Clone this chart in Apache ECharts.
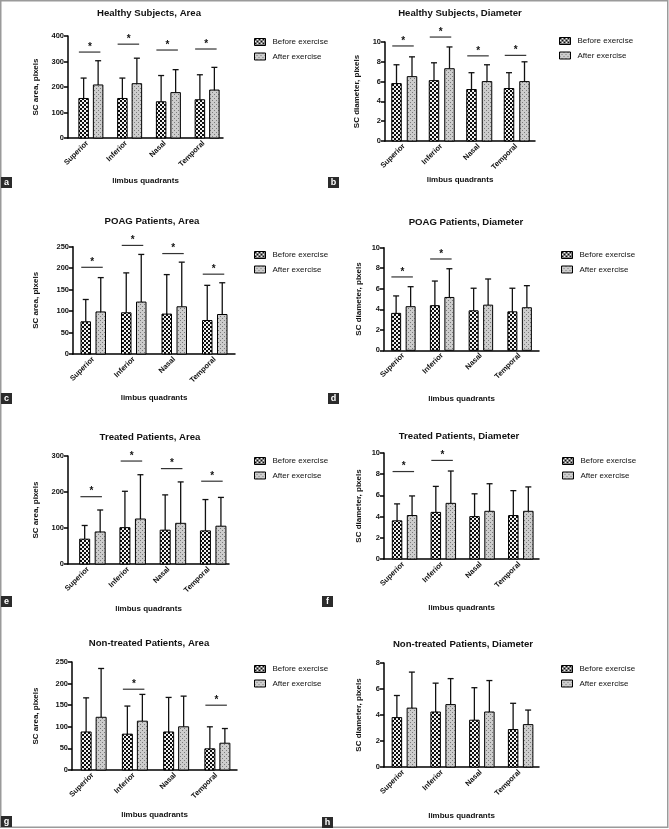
<!DOCTYPE html>
<html><head><meta charset="utf-8">
<script src="https://cdn.jsdelivr.net/npm/echarts@6/dist/echarts.min.js"></script>
<style>html,body{margin:0;padding:0;background:#fff}#c{width:669px;height:829px}</style>
</head><body><div id="c"></div>
<script>
// ---------- DATA ----------
const categories = ['Superior', 'Inferior', 'Nasal', 'Temporal'];
const seriesNames = ['Before exercise', 'After exercise'];
const titles = ['Healthy Subjects, Area', 'Healthy Subjects, Diameter', 'POAG Patients, Area', 'POAG Patients, Diameter',
  'Treated Patients, Area', 'Treated Patients, Diameter', 'Non-treated Patients, Area', 'Non-treated Patients, Diameter'];
const yNames = ['SC area, pixels', 'SC diameter, pixels'];
const xName = 'limbus quadrants';
const panelLetters = ['a', 'b', 'c', 'd', 'e', 'f', 'g', 'h'];
const yMax = [400, 10, 250, 10, 300, 10, 250, 8];
const yStep = [100, 2, 50, 2, 100, 2, 50, 2];

// a
const healthyAreaBefore = [155, 155, 142, 150];
const healthyAreaBeforeSD = [80, 80, 103, 98];
const healthyAreaAfter = [208, 213, 178, 188];
const healthyAreaAfterSD = [95, 100, 90, 89];
const healthyAreaSig = [337, 368, 345, 349];
// b
const healthyDiamBefore = [5.8, 6.1, 5.2, 5.3];
const healthyDiamBeforeSD = [1.9, 1.8, 1.7, 1.6];
const healthyDiamAfter = [6.5, 7.3, 6.0, 6.0];
const healthyDiamAfterSD = [2.0, 2.2, 1.7, 2.0];
const healthyDiamSig = [9.6, 10.5, 8.6, 8.65];
// c
const poagAreaBefore = [75, 96, 93, 78];
const poagAreaBeforeSD = [52, 93, 92, 82];
const poagAreaAfter = [98, 121, 110, 92];
const poagAreaAfterSD = [80, 111, 104, 74];
const poagAreaSig = [202, 253, 234, 186];
// d
const poagDiamBefore = [3.6, 4.35, 3.85, 3.75];
const poagDiamBeforeSD = [1.7, 2.4, 2.2, 2.3];
const poagDiamAfter = [4.25, 5.15, 4.4, 4.15];
const poagDiamAfterSD = [1.95, 2.8, 2.55, 2.15];
const poagDiamSig = [7.15, 8.9, null, null];
// e
const treatedAreaBefore = [69, 101, 94, 92];
const treatedAreaBeforeSD = [38, 101, 98, 87];
const treatedAreaAfter = [89, 125, 113, 105];
const treatedAreaAfterSD = [61, 123, 115, 80];
const treatedAreaSig = [187, 286, 265, 230];
// f
const treatedDiamBefore = [3.6, 4.4, 4.0, 4.1];
const treatedDiamBeforeSD = [1.6, 2.45, 2.15, 2.35];
const treatedDiamAfter = [4.1, 5.25, 4.5, 4.5];
const treatedDiamAfterSD = [1.85, 3.05, 2.6, 2.3];
const treatedDiamSig = [8.25, 9.3, null, null];
// g
const nonTreatedAreaBefore = [88, 83, 88, 49];
const nonTreatedAreaBeforeSD = [79, 65, 80, 51];
const nonTreatedAreaAfter = [122, 113, 100, 62];
const nonTreatedAreaAfterSD = [113, 62, 71, 34];
const nonTreatedAreaSig = [null, 187, null, 150];
// h
const nonTreatedDiamBefore = [3.8, 4.23, 3.6, 2.88];
const nonTreatedDiamBeforeSD = [1.7, 2.22, 2.5, 2.02];
const nonTreatedDiamAfter = [4.53, 4.8, 4.23, 3.26];
const nonTreatedDiamAfterSD = [2.77, 2.0, 2.42, 1.12];
const nonTreatedDiamSig = [null, null, null, null];

const panels = [
  [healthyAreaBefore, healthyAreaBeforeSD, healthyAreaAfter, healthyAreaAfterSD, healthyAreaSig],
  [healthyDiamBefore, healthyDiamBeforeSD, healthyDiamAfter, healthyDiamAfterSD, healthyDiamSig],
  [poagAreaBefore, poagAreaBeforeSD, poagAreaAfter, poagAreaAfterSD, poagAreaSig],
  [poagDiamBefore, poagDiamBeforeSD, poagDiamAfter, poagDiamAfterSD, poagDiamSig],
  [treatedAreaBefore, treatedAreaBeforeSD, treatedAreaAfter, treatedAreaAfterSD, treatedAreaSig],
  [treatedDiamBefore, treatedDiamBeforeSD, treatedDiamAfter, treatedDiamAfterSD, treatedDiamSig],
  [nonTreatedAreaBefore, nonTreatedAreaBeforeSD, nonTreatedAreaAfter, nonTreatedAreaAfterSD, nonTreatedAreaSig],
  [nonTreatedDiamBefore, nonTreatedDiamBeforeSD, nonTreatedDiamAfter, nonTreatedDiamAfterSD, nonTreatedDiamSig]
];

// ---------- LAYOUT ----------
const layout = [
  {x0:68, x1:223, top:36, bottom:138, shift:3.5, sep:14.5, bw:9.5, title:[149,13], legend:[254,42], yGap:28, xGap:39, label:[1,177]},
  {x0:385, x1:535, top:42, bottom:141, shift:0.5, sep:15.5, bw:9.5, title:[460,13], legend:[559,41], yGap:24, xGap:35, label:[328,177]},
  {x0:73, x1:235, top:246.7, bottom:354, shift:0, sep:15, bw:9.5, title:[152,221], legend:[254,255], yGap:33, xGap:40, label:[1,393]},
  {x0:384, x1:539, top:247.7, bottom:350.3, shift:0, sep:14.5, bw:9, title:[466,222], legend:[561,255], yGap:21, xGap:44, label:[328,393]},
  {x0:68, x1:229, top:456, bottom:564, shift:4.3, sep:15.5, bw:10, title:[150,437], legend:[254,461], yGap:28, xGap:41, label:[1,596]},
  {x0:384, x1:539, top:453, bottom:559, shift:1.2, sep:15, bw:9.5, title:[459,436], legend:[562,461], yGap:21, xGap:45, label:[322,596]},
  {x0:72, x1:237, top:662, bottom:770, shift:1, sep:15, bw:10, title:[149,643], legend:[254,669], yGap:32, xGap:41, label:[1,816]},
  {x0:384, x1:539, top:663, bottom:767, shift:1, sep:15, bw:9.5, title:[463,644], legend:[561,669], yGap:21, xGap:45, label:[322,817]}
];

const FONT = 'Liberation Sans, Arial, Helvetica, sans-serif';

function makeCanvas(draw) {
  const c = document.createElement('canvas'); c.width = 4; c.height = 4;
  draw(c.getContext('2d')); return c;
}
const checkerCanvas = makeCanvas(g => {
  g.fillStyle = '#f2f2f2'; g.fillRect(0, 0, 4, 4);
  g.fillStyle = '#0d0d0d'; g.fillRect(0, 0, 2, 2); g.fillRect(2, 2, 2, 2);
});
const dotCanvas = makeCanvas(g => {
  g.fillStyle = '#cdcdcd'; g.fillRect(0, 0, 4, 4);
  g.fillStyle = '#7a7a7a'; g.fillRect(0, 0, 1, 1); g.fillRect(2, 2, 1, 1);
});
const fills = [{image: checkerCanvas, repeat: 'repeat'}, {image: dotCanvas, repeat: 'repeat'}];

const grid = [], xAxis = [], yAxis = [], series = [], title = [], legend = [], graphic = [];

graphic.push({type:'rect', silent:true, shape:{x:0.75, y:0.75, width:667, height:826.5},
  style:{fill:'none', stroke:'#9a9a9a', lineWidth:1.5}});

layout.forEach((L, p) => {
  grid.push({left: L.x0, top: L.top, width: L.x1 - L.x0, height: L.bottom - L.top, containLabel: false});
  xAxis.push({
    type: 'category', gridIndex: p, data: categories, boundaryGap: true,
    name: xName, nameLocation: 'middle', nameGap: L.xGap,
    nameTextStyle: {fontFamily: FONT, fontWeight: 'bold', fontSize: 8, color: '#111'},
    axisLine: {lineStyle: {color: '#000', width: 1.5}},
    axisTick: {alignWithLabel: true, length: 3, lineStyle: {color: '#000', width: 1.2}},
    axisLabel: {rotate: 45, interval: 0, margin: 4, fontFamily: FONT, fontWeight: 'bold', fontSize: 7.5, color: '#111'},
    splitLine: {show: false}
  });
  yAxis.push({
    type: 'value', gridIndex: p, min: 0, max: yMax[p], interval: yStep[p],
    name: yNames[p % 2], nameLocation: 'middle', nameGap: L.yGap, nameRotate: 90,
    nameTextStyle: {fontFamily: FONT, fontWeight: 'bold', fontSize: 8, color: '#111'},
    axisLine: {show: true, lineStyle: {color: '#000', width: 1.5}},
    axisTick: {show: true, length: 4, lineStyle: {color: '#000', width: 1.5}},
    axisLabel: {margin: 4, fontFamily: FONT, fontWeight: 'bold', fontSize: 7.5, color: '#111'},
    splitLine: {show: false}
  });
  title.push({text: titles[p], left: L.title[0], top: L.title[1] - 5, textAlign: 'center', padding: 0,
    textStyle: {fontFamily: FONT, fontWeight: 'bold', fontSize: 9.6, color: '#111'}});
  legend.push({
    left: L.legend[0], top: L.legend[1] - 4, orient: 'vertical', icon: 'rect', padding: 0,
    itemWidth: 11, itemHeight: 7, itemGap: 6.5, selectedMode: false,
    textStyle: {fontFamily: FONT, fontSize: 8, color: '#111', padding: [0, 0, 0, 2]},
    data: seriesNames.map((n, k) => ({name: n, itemStyle: {color: fills[k], borderColor: '#000', borderWidth: 1}}))
  });

  const d = panels[p];
  [0, 1].forEach(k => {
    const mean = d[k * 2], sd = d[k * 2 + 1];
    series.push({
      type: 'custom', name: seriesNames[k], xAxisIndex: p, yAxisIndex: p,
      itemStyle: {color: fills[k], borderColor: '#000', borderWidth: 1},
      encode: {x: 0, y: 1},
      data: categories.map((c, i) => [i, mean[i], sd[i]]),
      renderItem: (params, api) => {
        const cat = api.value(0), m = api.value(1), s = api.value(2);
        const base = api.coord([cat, 0]);
        const top = api.coord([cat, m]);
        const et = api.coord([cat, m + s]);
        const cx = base[0] + L.shift + (k === 0 ? -1 : 1) * L.sep / 2;
        return {type: 'group', children: [
          {type: 'line', shape: {x1: cx, y1: top[1], x2: cx, y2: et[1]}, style: {stroke: '#111', lineWidth: 1.3}},
          {type: 'line', shape: {x1: cx - 3, y1: et[1], x2: cx + 3, y2: et[1]}, style: {stroke: '#111', lineWidth: 1.3}},
          {type: 'rect', shape: {x: cx - L.bw / 2, y: top[1], width: L.bw, height: base[1] - top[1]},
            style: {fill: fills[k], stroke: '#000', lineWidth: 1}}
        ]};
      }
    });
  });
  const sig = d[4];
  series.push({
    type: 'custom', xAxisIndex: p, yAxisIndex: p, encode: {x: 0, y: 1}, silent: true,
    data: sig.map((v, i) => v == null ? null : [i, v]).filter(v => v),
    renderItem: (params, api) => {
      const pt = api.coord([api.value(0), api.value(1)]);
      const gc = pt[0] + L.shift;
      return {type: 'group', children: [
        {type: 'line', shape: {x1: gc - 12, y1: pt[1], x2: gc + 9.5, y2: pt[1]}, style: {stroke: '#333', lineWidth: 1.2}},
        {type: 'text', style: {text: '*', x: gc - 1, y: pt[1] - 5, align: 'center', verticalAlign: 'middle',
          font: 'bold 10px ' + FONT, fill: '#111'}}
      ]};
    }
  });

  graphic.push({type: 'group', left: L.label[0], top: L.label[1], children: [
    {type: 'rect', shape: {x: 0, y: 0, width: 11, height: 11}, style: {fill: '#2b2b2b'}},
    {type: 'text', style: {text: panelLetters[p], x: 5.5, y: 5.5, align: 'center', verticalAlign: 'middle',
      font: 'bold 9px ' + FONT, fill: '#fff'}}
  ]});
});

const chart = echarts.init(document.getElementById('c'), null, {renderer: 'canvas'});
chart.setOption({
  animation: false,
  backgroundColor: '#fff',
  textStyle: {fontFamily: FONT},
  title, legend, grid, xAxis, yAxis, series, graphic
});
</script>
</body></html>
